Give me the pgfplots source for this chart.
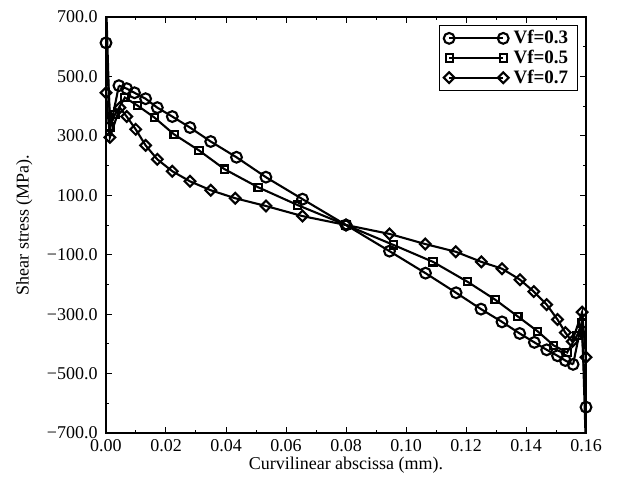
\documentclass[border=0pt]{standalone}
\usepackage{fontspec}
\setmainfont{Liberation Serif}
\usepackage{pgfplots}
\pgfplotsset{compat=1.18}
\begin{document}
\fontsize{9}{11}\selectfont
\begin{tikzpicture}
\begin{axis}[name=ax, scale only axis, width=240pt, height=208pt,
  xmin=0, xmax=0.16, ymin=-700, ymax=700,
  xtick={0,0.02,0.04,0.06,0.08,0.10,0.12,0.14,0.16},
  xticklabels={0.00,0.02,0.04,0.06,0.08,0.10,0.12,0.14,0.16},
  ytick={-700,-500,-300,-100,100,300,500,700},
  yticklabels={−700.0,−500.0,−300.0,−100.0,100.0,300.0,500.0,700.0},
  minor x tick num=1, minor y tick num=1,
  tick align=inside, major tick length=3pt, minor tick length=1.6pt,
  tick style={black, line width=0.5pt},
  axis line style={line width=0.8pt},
  tick label style={font=\fontsize{9}{11}\selectfont},
  xticklabel style={yshift=0pt},
  yticklabel style={xshift=-1pt},
  label style={font=\fontsize{9}{11}\selectfont},
  xlabel={Curvilinear abscissa (mm).},
  ylabel={Shear stress (MPa).},
  xlabel style={at={(axis description cs:0.5,-0.078)}, anchor=center},
  ylabel style={at={(axis description cs:-0.17,0.5)}, anchor=center, rotate=0},
  every axis plot/.append style={black, line width=1.05pt},
  every mark/.append style={line width=0.6pt, fill=white, solid},
  legend image code/.code={\draw[#1] plot coordinates {(0cm,0cm) (0.95cm,0cm)};},
  legend style={at={(rel axis cs:0.983,0.981)}, anchor=north east, draw=black, line width=0.6pt,
    font=\fontsize{9.5}{11}\selectfont\bfseries, row sep=0pt, inner xsep=2pt, inner ysep=1.5pt,
    nodes={inner xsep=2.5pt, inner ysep=0.9pt}},
  legend cell align=left,
]
% Vf=0.3 edge oscillations (lines only)
\addplot[no markers, forget plot] coordinates {(0,720) (0,613) (0.0015,330) (0.0043,469)};
\addplot[no markers, forget plot] coordinates {(0.1557,-469) (0.1585,-330) (0.16,-613) (0.16,-720)};
\addplot[only marks, mark=o, mark size=2.7pt, forget plot] coordinates {(0,613) (0.16,-613)};
% Vf=0.5 edge spikes
\addplot[no markers, forget plot] coordinates {(0,760) (0.0013,330)};
\addplot[no markers, forget plot] coordinates {(0.1587,-330) (0.16,-760)};
% main series
\addplot[mark=o, mark size=2.7pt] coordinates {
(0.0043,469) (0.0069,459) (0.0095,445) (0.0132,425) (0.0171,395) (0.0221,365)
(0.028,328) (0.0349,281) (0.0435,228) (0.0533,161) (0.0655,87) (0.08,0)
(0.0945,-88) (0.1065,-162) (0.1167,-228) (0.125,-283) (0.132,-326) (0.1379,-365)
(0.1428,-395) (0.1469,-420) (0.1505,-440) (0.1531,-456) (0.1557,-469)};
\addlegendentry{Vf=0.3}
\addplot[mark=square, mark size=1.8pt] coordinates {
(0.0013,330) (0.003,372) (0.0063,429) (0.0105,402) (0.0161,362) (0.0227,305)
(0.031,251) (0.0395,188) (0.0507,127) (0.0639,67) (0.08,0) (0.0958,-67)
(0.109,-124) (0.1205,-191) (0.1297,-251) (0.1373,-308) (0.1439,-358)
(0.1492,-405) (0.1537,-429) (0.157,-372) (0.1587,-330)};
\addlegendentry{Vf=0.5}
\addplot[mark=square, mark size=1.9pt, mark options={rotate=45}] coordinates {
(0,445) (0.0013,295) (0.0046,395) (0.0069,365) (0.0099,322) (0.0132,268)
(0.0171,221) (0.0221,181) (0.028,147) (0.0349,117) (0.0431,90) (0.0533,64)
(0.0655,30) (0.08,0) (0.0945,-30) (0.1064,-64) (0.1166,-90) (0.1251,-124)
(0.132,-147) (0.138,-184) (0.1426,-224) (0.1469,-268) (0.1505,-318)
(0.1531,-362) (0.1554,-392) (0.1587,-293) (0.16,-445)};
\addlegendentry{Vf=0.7}
\end{axis}
\path[use as bounding box] ([shift={(-53pt,-24pt)}]ax.south west) rectangle ([shift={(18pt,8.5pt)}]ax.north east);
\end{tikzpicture}
\end{document}
